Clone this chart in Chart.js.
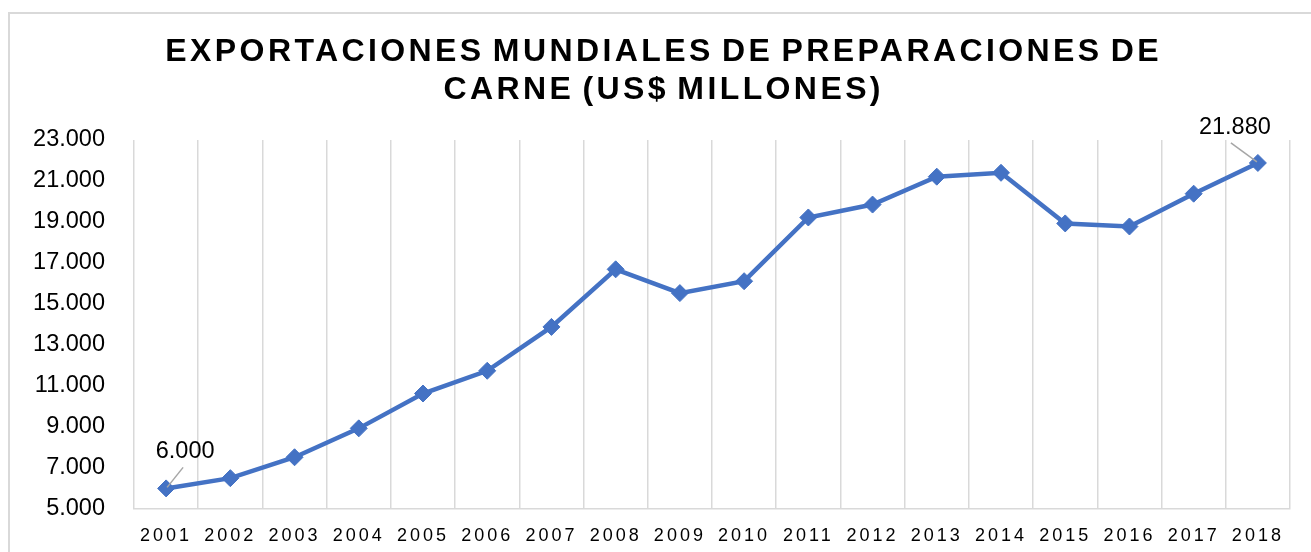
<!DOCTYPE html>
<html><head><meta charset="utf-8">
<script src="https://cdn.jsdelivr.net/npm/chart.js@4"></script>
<style>html,body{margin:0;padding:0;background:#fff}#wrap{width:1311px;height:552px}</style>
</head><body><div id="wrap"><canvas id="c" width="1311" height="552"></canvas></div>
<script>
const years = ['2001','2002','2003','2004','2005','2006','2007','2008','2009','2010','2011','2012','2013','2014','2015','2016','2017','2018'];
const exportValues = [6000,6500,7520,8930,10630,11740,13880,16690,15530,16110,19220,19850,21210,21400,18930,18780,20380,21880];
const yTicks = [5000,7000,9000,11000,13000,15000,17000,19000,21000,23000];
const titleLines = ['EXPORTACIONES MUNDIALES DE PREPARACIONES DE','CARNE (US$ MILLONES)'];
const labeledIndices = [0, 17];

const fmt = v => String(v).replace(/\B(?=(\d{3})+(?!\d))/g, '.');
const BASE_FONT = "'Liberation Sans', Arial, sans-serif";

const spacingPlugin = {
  id: 'spacing',
  beforeDraw(chart) {
    const ctx = chart.ctx;
    const xs = chart.scales.x;
    if (xs && !xs.__patched) {
      const orig = xs.drawLabels;
      xs.drawLabels = function (a) {
        ctx.save(); ctx.letterSpacing = '3px';
        orig.call(this, a); ctx.restore();
      };
      xs.__patched = true;
    }
    const tb = chart.titleBlock;
    if (tb && !tb.__patched) {
      const origT = tb.draw;
      tb.draw = function (a) {
        const sp = 3.4;
        ctx.save();
        ctx.translate(9 + sp / 2, 0);
        ctx.letterSpacing = sp + 'px';
        ctx.wordSpacing = '-4px';
        origT.call(this, a); ctx.restore();
      };
      tb.__patched = true;
    }
    // outer frame
    ctx.save();
    ctx.strokeStyle = '#d9d9d9'; ctx.lineWidth = 2;
    ctx.beginPath(); ctx.moveTo(9, 600); ctx.lineTo(9, 13); ctx.lineTo(1400, 13); ctx.stroke();
    ctx.restore();
  }
};

const labelPlugin = {
  id: 'pointLabels',
  afterDatasetsDraw(chart) {
    const ctx = chart.ctx;
    const meta = chart.getDatasetMeta(0);
    const last = exportValues.length - 1;
    ctx.save();
    labeledIndices.forEach(i => {
      const p = meta.data[i];
      const left = i !== last;
      const tx = p.x + (left ? 19 : -23);
      const ty = p.y + (left ? -37 : -35);
      ctx.strokeStyle = '#a6a6a6'; ctx.lineWidth = 1.5;
      ctx.beginPath();
      if (left) { ctx.moveTo(p.x + 1, p.y - 1); ctx.lineTo(p.x + 17, p.y - 21); }
      else { ctx.moveTo(p.x - 27, p.y - 20); ctx.lineTo(p.x - 1, p.y - 1); }
      ctx.stroke();
      ctx.fillStyle = '#000';
      ctx.font = '23.5px ' + BASE_FONT;
      ctx.textAlign = 'center'; ctx.textBaseline = 'middle';
      ctx.fillText(fmt(exportValues[i]), tx, ty);
    });
    ctx.restore();
  }
};

new Chart(document.getElementById('c'), {
  type: 'line',
  data: {
    labels: years,
    datasets: [{
      data: exportValues,
      borderColor: '#4472C4',
      backgroundColor: '#4472C4',
      borderWidth: 4.5,
      pointStyle: 'rectRot',
      pointRadius: 8.5,
      pointBorderWidth: 1,
      pointBackgroundColor: '#4472C4',
      pointBorderColor: '#4472C4',
      tension: 0,
      clip: false
    }]
  },
  options: {
    responsive: false,
    animation: false,
    devicePixelRatio: 1,
    layout: { padding: { left: 16, right: 21, top: 12, bottom: 0 } },
    plugins: {
      legend: { display: false },
      tooltip: { enabled: false },
      title: {
        display: true,
        text: titleLines,
        color: '#000',
        font: { family: BASE_FONT, size: 32, weight: 'bold', lineHeight: 1.1875 },
        padding: { top: 21, bottom: 31 }
      }
    },
    scales: {
      x: {
        offset: true,
        grid: { offset: true, color: '#d9d9d9', lineWidth: 1.5, drawTicks: false },
        border: { color: '#d9d9d9', width: 1.5 },
        ticks: { font: { family: BASE_FONT, size: 18 }, color: '#000', padding: 16, maxRotation: 0, autoSkip: false },
        afterFit: s => { s.height = 41; }
      },
      y: {
        min: 5000, max: 23000,
        grid: { display: false, drawTicks: false },
        border: { display: false },
        ticks: { font: { family: BASE_FONT, size: 23.5 }, color: '#000', padding: 29, callback: v => fmt(v) },
        afterBuildTicks: s => { s.ticks = yTicks.map(v => ({ value: v })); },
        afterFit: s => { s.width = 118; }
      }
    }
  },
  plugins: [spacingPlugin, labelPlugin]
});
</script>
</body></html>
